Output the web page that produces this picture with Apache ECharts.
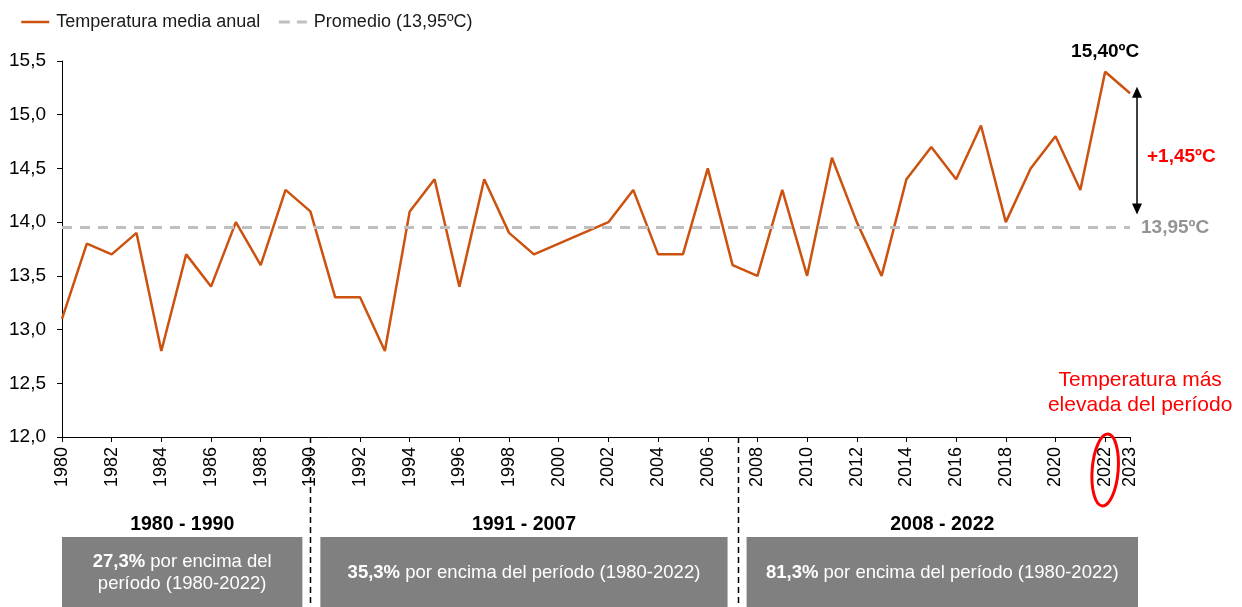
<!DOCTYPE html>
<html>
<head>
<meta charset="utf-8">
<title>Temperatura media anual</title>
<script src="https://cdn.jsdelivr.net/npm/echarts@6/dist/echarts.min.js"></script>
<style>
html,body{margin:0;padding:0;background:#fff}
#chart{width:1242px;height:607px}
</style>
</head>
<body>
<div id="chart"></div>
<script>
// datos
const years = [1980,1981,1982,1983,1984,1985,1986,1987,1988,1989,1990,1991,1992,1993,1994,1995,1996,1997,1998,1999,2000,2001,2002,2003,2004,2005,2006,2007,2008,2009,2010,2011,2012,2013,2014,2015,2016,2017,2018,2019,2020,2021,2022,2023]
const temps = [13.1,13.8,13.7,13.9,12.8,13.7,13.4,14.0,13.6,14.3,14.1,13.3,13.3,12.8,14.1,14.4,13.4,14.4,13.9,13.7,13.8,13.9,14.0,14.3,13.7,13.7,14.5,13.6,13.5,14.3,13.5,14.6,14.0,13.5,14.4,14.7,14.4,14.9,14.0,14.5,14.8,14.3,15.4,15.2]
const promedio = 13.95

// periodos de la parte inferior
const periodTitles = ["1980 - 1990","1991 - 2007","2008 - 2022"]
const periodStart = [1980,1990,2007.2]
const periodEnd = [1990,2007.2,2023]
const periodPct = ["27,3%","35,3%","81,3%"]
const periodText = [" por encima del\nperíodo (1980-2022)"," por encima del período (1980-2022)"," por encima del período (1980-2022)"]
const separators = [1990,2007.2]

const FONT = "'Liberation Sans', Arial, sans-serif"
const ORANGE = "#cc520f"
const GRAY_LINE = "#bfbfbf"
const fmt = (v,d) => v.toFixed(d).replace(".",",")

const maxTemp = Math.max(...temps)
const maxYear = years[temps.indexOf(maxTemp)]

const chart = echarts.init(document.getElementById("chart"))

chart.setOption({
	animation: false,
	textStyle: { fontFamily: FONT },
	legend: {
		left: 15,
		top: 8,
		itemWidth: 28,
		itemHeight: 12,
		itemGap: 17,
		textStyle: { fontSize: 18, color: "#1a1a1a", fontFamily: FONT, padding: [0,0,0,2] },
		data: [
			{
				name: "Temperatura media anual",
				itemStyle: { opacity: 0 },
				lineStyle: { color: ORANGE, width: 2.5 }
			},
			{
				name: "Promedio (13,95ºC)",
				itemStyle: { opacity: 0 },
				lineStyle: { color: GRAY_LINE, width: 3, type: [11,7] }
			}
		]
	},
	grid: { left: 62, right: 112, top: 61, bottom: 170 },
	xAxis: {
		type: "value",
		min: 1980,
		max: 2023,
		interval: 2,
		axisLine: { lineStyle: { color: "#000", width: 1 } },
		axisTick: { length: 5, lineStyle: { color: "#000" } },
		splitLine: { show: false },
		axisLabel: {
			rotate: 90,
			margin: 10,
			fontSize: 18,
			color: "#000",
			fontFamily: FONT,
			showMaxLabel: true,
			showMinLabel: true,
			formatter: v => String(v)
		}
	},
	yAxis: {
		type: "value",
		min: 12,
		max: 15.5,
		interval: 0.5,
		axisLine: { show: true, lineStyle: { color: "#000", width: 1 } },
		axisTick: { show: true, length: 5, lineStyle: { color: "#000" } },
		splitLine: { show: false },
		axisLabel: {
			margin: 16,
			fontSize: 19,
			color: "#000",
			fontFamily: FONT,
			formatter: v => fmt(v,1)
		}
	},
	series: [
		{
			name: "Temperatura media anual",
			type: "line",
			symbol: "none",
			color: ORANGE,
			lineStyle: { color: ORANGE, width: 2.5 },
			data: years.map((y,i) => [y,temps[i]]),
			markPoint: {
				symbol: "circle",
				symbolSize: 1,
				itemStyle: { color: "rgba(0,0,0,0)" },
				label: {
					show: true,
					position: "top",
					distance: 10,
					fontSize: 19,
					fontWeight: "bold",
					color: "#000",
					fontFamily: FONT,
					formatter: fmt(maxTemp,2) + "ºC"
				},
				data: [{ coord: [maxYear,maxTemp] }]
			}
		},
		{
			name: "Promedio (13,95ºC)",
			type: "line",
			symbol: "none",
			color: GRAY_LINE,
			lineStyle: { color: GRAY_LINE, width: 3, type: [10,8] },
			data: [[years[0],promedio],[years[years.length-1],promedio]],
			endLabel: {
				show: true,
				distance: 11,
				fontSize: 19,
				fontWeight: "bold",
				color: "#939393",
				fontFamily: FONT,
				formatter: fmt(promedio,2) + "ºC"
			}
		}
	]
})

// anotaciones: posiciones sacadas de las escalas del grafico
function drawAnnotations(){
	const px = (x,y) => chart.convertToPixel({ gridIndex: 0 },[x,y])
	const axisY = px(1980,12)[1]
	const bottomY = 607
	const graphic = []

	// lineas de separacion de periodos
	separators.forEach(s => {
		const x = Math.round(px(s,12)[0]) + 0.5
		graphic.push({
			type: "line",
			shape: { x1: x, y1: axisY, x2: x, y2: bottomY },
			style: { stroke: "#000", lineWidth: 1.5, lineDash: [6,4] },
			z: 10
		})
	})

	// cajas de periodos
	const boxTop = axisY + 100
	const pads = [[0,-8],[10,-10],[9,8]]
	periodTitles.forEach((t,i) => {
		const x1 = px(periodStart[i],12)[0] + pads[i][0]
		const x2 = px(periodEnd[i],12)[0] + pads[i][1]
		const cx = (x1 + x2) / 2
		const lines = periodText[i].split("\n")
		graphic.push({
			type: "rect",
			shape: { x: x1, y: boxTop, width: x2 - x1, height: bottomY - boxTop + 10 },
			style: { fill: "#808080" }
		})
		graphic.push({
			type: "text",
			x: cx,
			y: boxTop - 12,
			style: {
				text: t,
				fontSize: 19.5,
				fontWeight: "bold",
				fontFamily: FONT,
				fill: "#000",
				align: "center",
				verticalAlign: "middle"
			}
		})
		graphic.push({
			type: "text",
			x: cx,
			y: boxTop + 36,
			style: {
				text: "{b|" + periodPct[i] + "}" + lines.map(l => "{n|" + l + "}").join("\n"),
				rich: {
					b: { fontSize: 18.5, fontWeight: "bold", fill: "#fff", fontFamily: FONT, lineHeight: 22 },
					n: { fontSize: 18.5, fill: "#fff", fontFamily: FONT, lineHeight: 22 }
				},
				fontSize: 18.5,
				lineHeight: 22,
				fontFamily: FONT,
				fill: "#fff",
				align: "center",
				verticalAlign: "middle"
			}
		})
	})

	// flecha de diferencia con el promedio
	const last = years[years.length-1]
	const ax = px(last,12)[0] + 7
	const topY = px(last,maxTemp)[1] + 15
	const botY = px(last,promedio)[1] - 13
	graphic.push({
		type: "line",
		shape: { x1: ax, y1: topY + 6, x2: ax, y2: botY - 6 },
		style: { stroke: "#000", lineWidth: 1.5 }
	})
	graphic.push({
		type: "polygon",
		shape: { points: [[ax,topY],[ax-5,topY+11],[ax+5,topY+11]] },
		style: { fill: "#000" }
	})
	graphic.push({
		type: "polygon",
		shape: { points: [[ax,botY],[ax-5,botY-11],[ax+5,botY-11]] },
		style: { fill: "#000" }
	})
	graphic.push({
		type: "text",
		x: ax + 10,
		y: (topY + botY) / 2 + 6,
		style: {
			text: "+" + fmt(maxTemp - promedio,2) + "ºC",
			fontSize: 19,
			fontWeight: "bold",
			fontFamily: FONT,
			fill: "#ff0000",
			align: "left",
			verticalAlign: "middle"
		}
	})

	// marca del año mas calido
	const ex = px(maxYear,12)[0]
	graphic.push({
		type: "ellipse",
		shape: { cx: 0, cy: 0, rx: 13, ry: 36 },
		x: ex,
		y: axisY + 33,
		rotation: -0.08,
		style: { stroke: "#ff0000", fill: "none", lineWidth: 3 },
		z: 20
	})
	graphic.push({
		type: "text",
		x: ex + 35,
		y: axisY - 44,
		style: {
			text: "Temperatura más\nelevada del período",
			fontSize: 21,
			lineHeight: 25,
			fontFamily: FONT,
			fill: "#ff0000",
			align: "center",
			verticalAlign: "middle"
		}
	})

	chart.setOption({ graphic: graphic })
}

drawAnnotations()
</script>
</body>
</html>
